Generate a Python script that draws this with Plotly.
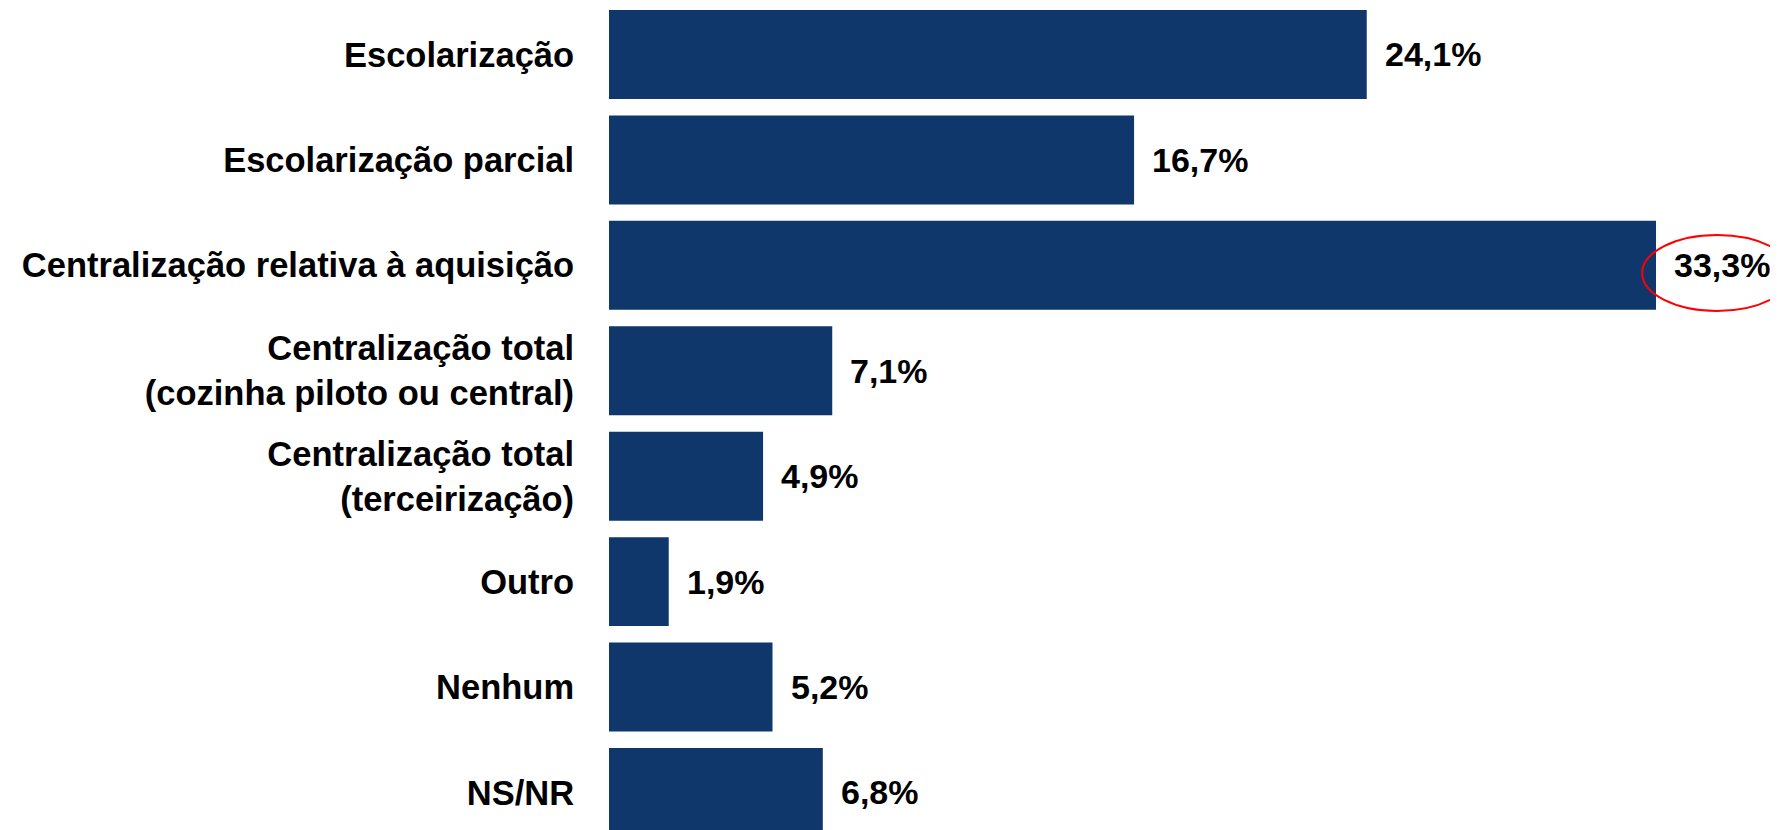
import plotly.graph_objects as go

categories = [
    "Escolarização",
    "Escolarização parcial",
    "Centralização relativa à aquisição",
    "Centralização total<br>(cozinha piloto ou central)",
    "Centralização total<br>(terceirização)",
    "Outro",
    "Nenhum",
    "NS/NR",
]
values = [24.1, 16.7, 33.3, 7.1, 4.9, 1.9, 5.2, 6.8]
highlight_index = 2

BAR_COLOR = "#0F376B"
FONT = "Arial, Liberation Sans, sans-serif"

labels = [f"{v:.1f}".replace(".", ",") + "%" for v in values]

fig = go.Figure()
fig.add_trace(go.Bar(
    y=list(range(len(categories))),
    x=values,
    orientation="h",
    marker=dict(color=BAR_COLOR, line=dict(width=0)),
    hoverinfo="skip",
))

for i, (v, t) in enumerate(zip(values, labels)):
    fig.add_annotation(
        x=v, y=i, xref="x", yref="y",
        text=f"<b>{t}</b>", showarrow=False,
        xanchor="left", yanchor="middle", xshift=16,
        font=dict(family=FONT, size=34, color="#000000"),
    )

# red ellipse highlighting the largest value
fig.add_shape(
    type="circle", xref="x", yref="y",
    x0=values[highlight_index] - 0.44, x1=values[highlight_index] + 4.33,
    y0=highlight_index - 0.288, y1=highlight_index + 0.433,
    line=dict(color="#FF0000", width=2), fillcolor="rgba(0,0,0,0)",
    layer="above",
)

fig.update_layout(
    width=1770, height=822,
    margin=dict(l=601, r=0, t=0, b=0),
    paper_bgcolor="white", plot_bgcolor="white",
    bargap=0.156,
    showlegend=False,
    xaxis=dict(range=[0, 37.18], visible=False, fixedrange=True),
    yaxis=dict(
        range=[7.356, -0.441],
        tickmode="array",
        tickvals=list(range(len(categories))),
        ticktext=[f"<b>{c}</b>" for c in categories],
        tickfont=dict(family=FONT, size=34.5, color="#000000"),
        ticks="outside", ticklen=27, tickcolor="rgba(0,0,0,0)",
        showgrid=False, zeroline=False, showline=False,
        fixedrange=True,
    ),
)

fig.write_html("out.html")
